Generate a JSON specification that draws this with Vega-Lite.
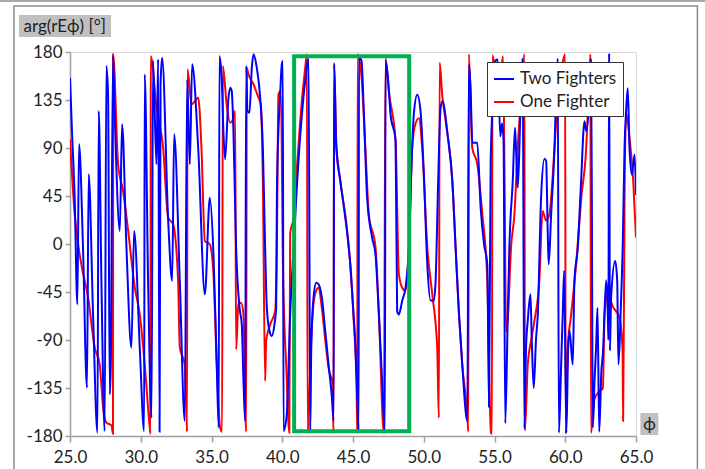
{
  "$schema": "https://vega.github.io/schema/vega-lite/v6.json",
  "autosize": {"type": "none"},
  "width": 566,
  "height": 384,
  "padding": {"left": 70, "top": 52, "right": 69, "bottom": 33},
  "background": "white",
  "config": {
    "font": "Lato",
    "view": {"stroke": "#d9d9d9", "strokeWidth": 1},
    "axis": {
      "labelFont": "Lato", "labelFontSize": 17, "labelColor": "#222",
      "titleFont": "Lato", "titleFontSize": 17, "titleFontWeight": "normal", "titleColor": "#222",
      "gridColor": "#d9d9d9", "gridWidth": 1,
      "domainColor": "#a0a0a0", "domainWidth": 1.5,
      "tickColor": "#a0a0a0", "tickWidth": 1.5
    }
  },
  "resolve": {"axis": {"x": "independent", "y": "independent"}},
  "datasets": {
    "two": [
      {"phi":25.00,"arg":155.9},{"phi":25.14,"arg":105.9},{"phi":25.33,"arg":43.4},{"phi":25.52,"arg":-56.6},{"phi":25.64,"arg":93.4},{"phi":25.92,"arg":-3.4},{"phi":26.20,"arg":-134.7},{"phi":26.32,"arg":65.3},{"phi":26.63,"arg":-65.9},{"phi":26.94,"arg":-176.9},
      {"phi":27.03,"arg":124.7},{"phi":27.22,"arg":-34.7},{"phi":27.45,"arg":-175.3},{"phi":27.57,"arg":166.9},{"phi":27.69,"arg":140.3},{"phi":27.81,"arg":-140.9},{"phi":27.88,"arg":-115.9},{"phi":28.04,"arg":176.3},{"phi":28.16,"arg":121.6},{"phi":28.52,"arg":12.2},
      {"phi":28.68,"arg":112.2},{"phi":28.99,"arg":-3.4},{"phi":29.34,"arg":-97.2},{"phi":29.53,"arg":12.2},{"phi":29.93,"arg":-97.2},{"phi":30.24,"arg":-175.3},{"phi":30.28,"arg":159.1},{"phi":30.52,"arg":-34.7},{"phi":30.76,"arg":-162.8},{"phi":30.87,"arg":171.6},
      {"phi":31.11,"arg":74.7},{"phi":31.23,"arg":173.1},{"phi":31.33,"arg":-176},{"phi":31.40,"arg":150},{"phi":31.51,"arg":174.7},{"phi":31.94,"arg":21.6},{"phi":32.22,"arg":-34.7},{"phi":32.36,"arg":102.8},{"phi":32.76,"arg":-34.7},{"phi":33.11,"arg":-165.9},
      {"phi":33.28,"arg":154.4},{"phi":33.47,"arg":74.7},{"phi":33.63,"arg":168.4},{"phi":34.06,"arg":90.3},{"phi":34.53,"arg":-47.2},{"phi":34.88,"arg":43.4},{"phi":35.14,"arg":-9.7},{"phi":35.37,"arg":-112.8},{"phi":35.51,"arg":-172.2},{"phi":35.56,"arg":176.3},
      {"phi":35.73,"arg":152.8},{"phi":35.84,"arg":105.9},{"phi":35.96,"arg":79.4},{"phi":36.20,"arg":137.2},{"phi":36.32,"arg":146.6},{"phi":36.43,"arg":143.4},{"phi":36.55,"arg":105.9},{"phi":36.74,"arg":-3.4},{"phi":36.98,"arg":-59.7},{"phi":37.14,"arg":-75.3},
      {"phi":37.26,"arg":-128.4},{"phi":37.38,"arg":-165.9},{"phi":37.45,"arg":166.9},{"phi":37.54,"arg":124.7},{"phi":37.68,"arg":123.1},{"phi":37.85,"arg":165.3},{"phi":37.97,"arg":177.8},{"phi":38.20,"arg":165.3},{"phi":38.44,"arg":137.2},{"phi":38.63,"arg":90.3},
      {"phi":38.79,"arg":-3.4},{"phi":38.91,"arg":-59.7},{"phi":39.10,"arg":-81.6},{"phi":39.26,"arg":-86.3},{"phi":39.45,"arg":-75.3},{"phi":39.57,"arg":-59.7},{"phi":39.62,"arg":43.4},{"phi":39.73,"arg":105.9},{"phi":39.85,"arg":140.3},{"phi":39.97,"arg":168.4},
      {"phi":40.04,"arg":171.6},{"phi":40.09,"arg":-175.3},{"phi":40.32,"arg":-159.7},{"phi":40.56,"arg":-65.9},{"phi":40.80,"arg":-3.4},{"phi":41.03,"arg":52.8},{"phi":41.39,"arg":121.6},{"phi":41.62,"arg":152.8},{"phi":41.86,"arg":174.7},{"phi":41.98,"arg":-175.3},
      {"phi":42.05,"arg":-97.2},{"phi":42.21,"arg":-50.3},{"phi":42.40,"arg":-36.3},{"phi":42.57,"arg":-37.8},{"phi":42.80,"arg":-50.3},{"phi":43.04,"arg":-81.6},{"phi":43.27,"arg":-112.8},{"phi":43.51,"arg":-144.1},{"phi":43.63,"arg":-165.9},{"phi":43.67,"arg":168.4},
      {"phi":43.82,"arg":90.3},{"phi":44.10,"arg":59.1},{"phi":44.33,"arg":37.2},{"phi":44.57,"arg":12.2},{"phi":44.81,"arg":-19.1},{"phi":45.04,"arg":-65.9},{"phi":45.15,"arg":-90},{"phi":45.36,"arg":-165},{"phi":45.40,"arg":-176},{"phi":45.42,"arg":175},
      {"phi":45.60,"arg":172},{"phi":45.77,"arg":122},{"phi":46.00,"arg":43},{"phi":46.35,"arg":6},{"phi":46.59,"arg":-10},{"phi":46.83,"arg":-66},{"phi":47.06,"arg":-128},{"phi":47.25,"arg":-177},{"phi":47.30,"arg":172},{"phi":47.49,"arg":153},
      {"phi":47.65,"arg":122},{"phi":48.01,"arg":97},{"phi":48.12,"arg":-63},{"phi":48.24,"arg":-66},{"phi":48.48,"arg":-53},{"phi":48.71,"arg":-41},{"phi":48.95,"arg":-3},{"phi":49.18,"arg":90},{"phi":49.30,"arg":122},{"phi":49.54,"arg":140},
      {"phi":49.77,"arg":125},{"phi":50.01,"arg":65},{"phi":50.25,"arg":-19},{"phi":50.48,"arg":-53},{"phi":50.72,"arg":-53},{"phi":50.84,"arg":-34},{"phi":51.02,"arg":59},{"phi":51.19,"arg":128},{"phi":51.35,"arg":134},{"phi":51.66,"arg":105},
      {"phi":52.02,"arg":59},{"phi":52.25,"arg":-3},{"phi":52.49,"arg":-66},{"phi":52.72,"arg":-113},{"phi":53.08,"arg":-166},{"phi":53.19,"arg":168},{"phi":53.31,"arg":146},{"phi":53.43,"arg":95},{"phi":53.78,"arg":95},{"phi":54.02,"arg":34},
      {"phi":54.26,"arg":0},{"phi":54.49,"arg":-19},{"phi":54.61,"arg":-153},{"phi":54.73,"arg":78},{"phi":54.96,"arg":150},{"phi":55.08,"arg":172},{"phi":55.22,"arg":173},{"phi":55.41,"arg":101},{"phi":55.53,"arg":113},{"phi":55.64,"arg":97},
      {"phi":55.76,"arg":-168},{"phi":55.93,"arg":-72},{"phi":56.05,"arg":-3},{"phi":56.29,"arg":59},{"phi":56.45,"arg":109},{"phi":56.52,"arg":90},{"phi":56.64,"arg":53},{"phi":56.76,"arg":90},{"phi":56.88,"arg":152},{"phi":56.99,"arg":174},
      {"phi":57.11,"arg":-173},{"phi":57.23,"arg":-97},{"phi":57.35,"arg":-72},{"phi":57.54,"arg":-47},{"phi":57.63,"arg":-88},{"phi":57.77,"arg":-135},{"phi":57.94,"arg":-88},{"phi":58.06,"arg":-66},{"phi":58.29,"arg":43},{"phi":58.53,"arg":80},
      {"phi":58.65,"arg":78},{"phi":58.76,"arg":12},{"phi":58.83,"arg":-19},{"phi":59.00,"arg":27},{"phi":59.24,"arg":90},{"phi":59.35,"arg":137},{"phi":59.47,"arg":174},{"phi":59.55,"arg":-177},{"phi":59.71,"arg":-113},{"phi":59.82,"arg":-66},
      {"phi":59.92,"arg":-25},{"phi":60.08,"arg":-177},{"phi":60.20,"arg":-100},{"phi":60.30,"arg":-81},{"phi":60.53,"arg":-113},{"phi":60.65,"arg":-34},{"phi":60.89,"arg":-3},{"phi":61.12,"arg":59},{"phi":61.36,"arg":115},{"phi":61.48,"arg":106},
      {"phi":61.71,"arg":137},{"phi":61.83,"arg":174},{"phi":61.95,"arg":-172},{"phi":62.07,"arg":-128},{"phi":62.18,"arg":-97},{"phi":62.28,"arg":-60},{"phi":62.40,"arg":-176},{"phi":62.55,"arg":-120},{"phi":62.66,"arg":-103},{"phi":62.89,"arg":-34},
      {"phi":63.01,"arg":-66},{"phi":63.05,"arg":-90},{"phi":63.10,"arg":179},{"phi":63.16,"arg":-100},{"phi":63.24,"arg":-50},{"phi":63.53,"arg":-16},{"phi":63.67,"arg":-34},{"phi":63.76,"arg":-113},{"phi":63.91,"arg":-66},{"phi":64.07,"arg":3},
      {"phi":64.19,"arg":90},{"phi":64.31,"arg":127},{"phi":64.42,"arg":146},{"phi":64.54,"arg":90},{"phi":64.71,"arg":65},{"phi":64.90,"arg":84},{"phi":65.00,"arg":46}
    ],
    "one": [
      {"phi":25.00,"arg":98.1},{"phi":25.33,"arg":27.8},{"phi":25.80,"arg":-19.1},{"phi":26.28,"arg":-50.3},{"phi":26.75,"arg":-97.2},{"phi":27.10,"arg":-112.8},{"phi":27.34,"arg":-153.4},{"phi":27.57,"arg":-167.5},{"phi":27.93,"arg":-170},{"phi":28.04,"arg":-178},
      {"phi":28.05,"arg":178},{"phi":28.40,"arg":74.7},{"phi":28.75,"arg":49.7},{"phi":29.11,"arg":12.2},{"phi":29.58,"arg":-40.9},{"phi":29.93,"arg":-65.9},{"phi":30.28,"arg":-112.8},{"phi":30.64,"arg":-172.2},{"phi":30.69,"arg":-178},{"phi":30.71,"arg":176},
      {"phi":31.11,"arg":127.8},{"phi":31.58,"arg":90.3},{"phi":31.94,"arg":24.7},{"phi":32.29,"arg":18.4},{"phi":32.64,"arg":-34.7},{"phi":32.76,"arg":-97.2},{"phi":33.11,"arg":-112.8},{"phi":33.23,"arg":-156.6},{"phi":33.27,"arg":-176},{"phi":33.30,"arg":163.8},
      {"phi":33.59,"arg":130.9},{"phi":34.06,"arg":137.2},{"phi":34.29,"arg":90.3},{"phi":34.53,"arg":2.8},{"phi":34.88,"arg":-0.3},{"phi":35.14,"arg":-28.4},{"phi":35.37,"arg":-112.8},{"phi":35.61,"arg":-172.2},{"phi":35.75,"arg":-176},{"phi":35.80,"arg":166.9},
      {"phi":36.08,"arg":129.4},{"phi":36.32,"arg":113.8},{"phi":36.55,"arg":118.4},{"phi":36.67,"arg":124.7},{"phi":36.74,"arg":-98.8},{"phi":36.90,"arg":-56.6},{"phi":37.09,"arg":-55.0},{"phi":37.26,"arg":-65.9},{"phi":37.40,"arg":-159.7},{"phi":37.45,"arg":-176},
      {"phi":37.49,"arg":165.3},{"phi":37.61,"arg":159.1},{"phi":37.97,"arg":149.7},{"phi":38.32,"arg":137.2},{"phi":38.48,"arg":130.9},{"phi":38.63,"arg":59.1},{"phi":38.79,"arg":-128.4},{"phi":38.86,"arg":-90.9},{"phi":39.15,"arg":-75.3},{"phi":39.50,"arg":-62.8},
      {"phi":39.62,"arg":-3.4},{"phi":39.73,"arg":140.3},{"phi":39.90,"arg":143.4},{"phi":40.05,"arg":-20},{"phi":40.30,"arg":-120},{"phi":40.50,"arg":-177},{"phi":40.56,"arg":10},{"phi":40.80,"arg":25},{"phi":41.03,"arg":70},{"phi":41.39,"arg":135},
      {"phi":41.62,"arg":165},{"phi":41.74,"arg":178},{"phi":41.80,"arg":-177},{"phi":41.90,"arg":-150},{"phi":42.05,"arg":-90},{"phi":42.30,"arg":-48},{"phi":42.56,"arg":-41},{"phi":42.80,"arg":-60},{"phi":43.04,"arg":-90},{"phi":43.30,"arg":-118},
      {"phi":43.55,"arg":-130},{"phi":43.62,"arg":-177},{"phi":43.66,"arg":170},{"phi":43.82,"arg":95},{"phi":44.10,"arg":60},{"phi":44.57,"arg":15},{"phi":44.81,"arg":-20},{"phi":45.04,"arg":-70},{"phi":45.25,"arg":-130},{"phi":45.30,"arg":-177},
      {"phi":45.33,"arg":178},{"phi":45.60,"arg":157},{"phi":45.88,"arg":88},{"phi":46.12,"arg":28},{"phi":46.59,"arg":-3},{"phi":46.83,"arg":-66},{"phi":47.18,"arg":-177},{"phi":47.30,"arg":174},{"phi":47.53,"arg":143},{"phi":48.01,"arg":96},
      {"phi":48.24,"arg":-28},{"phi":48.48,"arg":-41},{"phi":48.71,"arg":-44},{"phi":48.95,"arg":-3},{"phi":49.18,"arg":90},{"phi":49.42,"arg":113},{"phi":49.66,"arg":118},{"phi":49.89,"arg":90},{"phi":50.25,"arg":-3},{"phi":50.60,"arg":-47},
      {"phi":50.95,"arg":-97},{"phi":51.07,"arg":-163},{"phi":51.12,"arg":170},{"phi":51.31,"arg":139},{"phi":51.66,"arg":105},{"phi":52.02,"arg":59},{"phi":52.25,"arg":-3},{"phi":52.49,"arg":-66},{"phi":52.72,"arg":-113},{"phi":53.08,"arg":-160},
      {"phi":53.15,"arg":-176},{"phi":53.19,"arg":178},{"phi":53.43,"arg":90},{"phi":53.78,"arg":75},{"phi":54.14,"arg":28},{"phi":54.49,"arg":-34},{"phi":54.75,"arg":-177},{"phi":54.82,"arg":-178},{"phi":54.85,"arg":177},{"phi":55.10,"arg":160},
      {"phi":55.35,"arg":150},{"phi":55.60,"arg":176},{"phi":55.70,"arg":75},{"phi":55.82,"arg":-82},{"phi":55.93,"arg":-72},{"phi":56.17,"arg":-3},{"phi":56.41,"arg":28},{"phi":56.64,"arg":90},{"phi":56.88,"arg":137},{"phi":57.11,"arg":178},
      {"phi":57.15,"arg":-175},{"phi":57.35,"arg":-113},{"phi":57.58,"arg":-91},{"phi":57.82,"arg":-72},{"phi":58.17,"arg":-34},{"phi":58.40,"arg":31},{"phi":58.65,"arg":22},{"phi":58.88,"arg":28},{"phi":59.24,"arg":90},{"phi":59.47,"arg":137},
      {"phi":59.71,"arg":162},{"phi":59.99,"arg":178},{"phi":60.03,"arg":-178},{"phi":60.18,"arg":-97},{"phi":60.42,"arg":-66},{"phi":60.77,"arg":-19},{"phi":61.13,"arg":43},{"phi":61.48,"arg":90},{"phi":61.65,"arg":140},{"phi":61.78,"arg":178},
      {"phi":61.82,"arg":-177},{"phi":62.07,"arg":-145},{"phi":62.42,"arg":-138},{"phi":62.66,"arg":-135},{"phi":62.78,"arg":-66},{"phi":63.01,"arg":-47},{"phi":63.37,"arg":-59},{"phi":63.84,"arg":-69},{"phi":64.05,"arg":-100},{"phi":64.09,"arg":-166},
      {"phi":64.20,"arg":60},{"phi":64.31,"arg":122},{"phi":64.54,"arg":100},{"phi":64.80,"arg":60},{"phi":65.00,"arg":6}
    ],
    "box": [{"x1": 40.84, "x2": 48.97, "y1": -175.5, "y2": 175.9}]
  },
  "layer": [
    {
      "data": {"values": [{}]},
      "mark": {"type": "rect", "fill": null, "fillOpacity": 0, "stroke": "#8c8c8c", "strokeWidth": 1.5},
      "encoding": {
        "x": {"datum": 21.04, "type": "quantitative", "scale": {"domain": [25, 65], "nice": false, "zero": false},
          "axis": {"orient": "bottom", "values": [25, 30, 35, 40, 45, 50, 55, 60, 65], "labels": false, "ticks": false, "domain": false, "grid": false, "zindex": 1,
            "title": "ϕ", "titleAngle": 0, "titleX": 579, "titleY": -12, "titleAlign": "center", "titleBaseline": "middle"}},
        "x2": {"datum": 69.34},
        "y": {"datum": 223.1, "type": "quantitative", "scale": {"domain": [-180, 180], "nice": false, "zero": false},
          "axis": {"orient": "left", "values": [0], "labels": false, "ticks": false, "domain": false, "grid": false, "zindex": 1,
            "title": "arg(rEϕ) [°]", "titleAngle": 0, "titleX": -47, "titleY": -26, "titleAlign": "left", "titleBaseline": "middle"}},
        "y2": {"datum": -215}
      }
    },
    {
      "data": {"values": [{}]},
      "mark": {"type": "rule", "stroke": "#8c8c8c", "strokeWidth": 1.5},
      "encoding": {
        "x": {"datum": 20.0, "type": "quantitative", "axis": null},
        "x2": {"datum": 69.9},
        "y": {"datum": 227.8, "type": "quantitative", "axis": null}
      }
    },
    {
      "data": {"values": [{}]},
      "mark": {"type": "rect", "fill": "#c0c0c0", "stroke": null},
      "encoding": {
        "x": {"datum": 21.39, "type": "quantitative", "axis": null},
        "x2": {"datum": 27.90},
        "y": {"datum": 214.7, "type": "quantitative", "axis": null},
        "y2": {"datum": 194.1}
      }
    },
    {
      "data": {"values": [{}]},
      "mark": {"type": "rect", "fill": "#c0c0c0", "stroke": null},
      "encoding": {
        "x": {"datum": 65.31, "type": "quantitative", "axis": null},
        "x2": {"datum": 66.58},
        "y": {"datum": -158.4, "type": "quantitative", "axis": null},
        "y2": {"datum": -179.1}
      }
    },
    {
      "data": {"name": "one"},
      "mark": {"type": "line", "strokeWidth": 2, "clip": true, "interpolate": "monotone"},
      "encoding": {
        "x": {"field": "phi", "type": "quantitative",
          "axis": {"orient": "bottom", "values": [25, 30, 35, 40, 45, 50, 55, 60, 65], "format": ".1f", "labelFlush": false, "tickSize": 6, "labelPadding": 7, "title": null, "zindex": 0}},
        "y": {"field": "arg", "type": "quantitative",
          "axis": {"orient": "left", "values": [-180, -135, -90, -45, 0, 45, 90, 135, 180], "labelExpr": "'' + datum.value", "tickSize": 5, "labelPadding": 3, "title": null, "zindex": 0}},
        "color": {"datum": "One Fighter", "type": "nominal",
          "scale": {"domain": ["Two Fighters", "One Fighter"], "range": ["#0000FF", "#FF0000"]},
          "legend": {"title": null, "orient": "none", "legendX": 417, "legendY": 10, "fillColor": "white", "strokeColor": "#333",
            "padding": 6, "symbolType": "stroke", "symbolSize": 400, "symbolStrokeWidth": 2, "labelFont": "Lato", "labelFontSize": 17,
            "labelColor": "#222", "labelOffset": 5, "rowPadding": 4}}
      }
    },
    {
      "data": {"name": "two"},
      "mark": {"type": "line", "strokeWidth": 2, "clip": true, "interpolate": "monotone"},
      "encoding": {
        "x": {"field": "phi", "type": "quantitative", "axis": null},
        "y": {"field": "arg", "type": "quantitative", "axis": null},
        "color": {"datum": "Two Fighters", "type": "nominal"}
      }
    },
    {
      "data": {"name": "box"},
      "mark": {"type": "rect", "fillOpacity": 0, "stroke": "#00B050", "strokeWidth": 4},
      "encoding": {
        "x": {"field": "x1", "type": "quantitative", "axis": null},
        "x2": {"field": "x2"},
        "y": {"field": "y1", "type": "quantitative", "axis": null},
        "y2": {"field": "y2"}
      }
    }
  ]
}
